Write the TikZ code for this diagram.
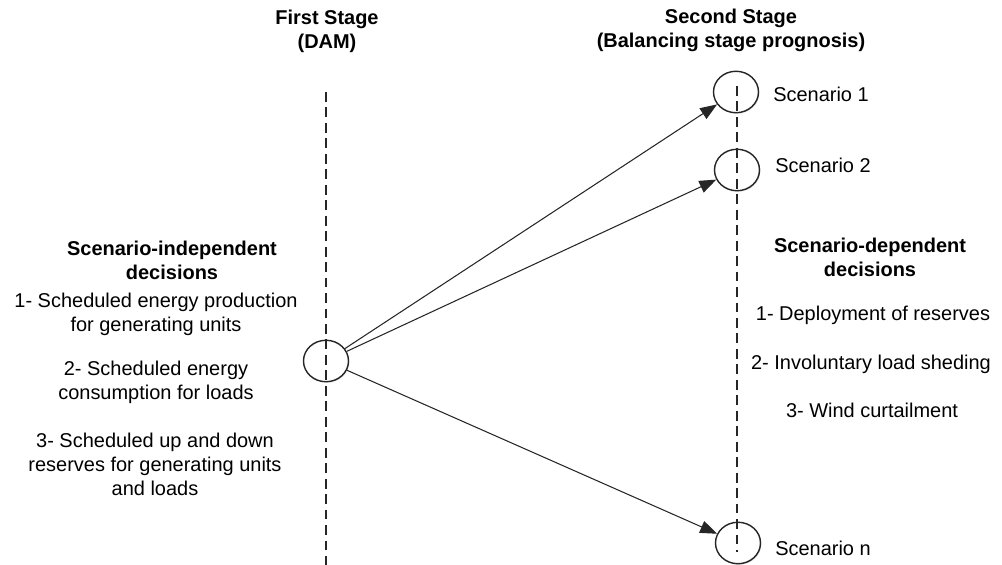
\documentclass[tikz,border=0pt]{standalone}
\usepackage{fontspec}
\setmainfont{Liberation Sans}
\usetikzlibrary{arrows.meta,shadows,shapes.geometric}
\begin{document}
\begin{tikzpicture}[x=0.025cm,y=-0.025cm,
  txt/.style={font=\fontsize{14.2}{17}\selectfont, align=center, inner sep=0pt, text=black},
  hdr/.style={txt, font=\fontsize{14.2}{17}\selectfont\bfseries},
  circ/.style={draw=black!85, line width=1pt, fill=white, inner sep=0pt, minimum width=32pt, minimum height=29.5pt, ellipse,
     drop shadow={opacity=0.25, shadow xshift=0.7pt, shadow yshift=-0.7pt}},
  stage/.style={line width=0.9pt, black!85, dash pattern=on 7pt off 4pt},
  arr/.style={line width=0.75pt, black!85, -{Triangle[length=12pt,width=9pt]}}
]
\useasboundingbox (0,0) rectangle (1002,565);
% stage headers
\node[hdr] (h1) at (327,31) {First Stage\\(DAM)};
\node[hdr] (h2) at (731,30) {Second Stage\\(Balancing stage prognosis)};
% circles
\node[circ] (L) at (326,361) {};
\node[circ] (S1) at (736,92) {};
\node[circ] (S2) at (737,170) {};
\node[circ] (Sn) at (738,543) {};
% dashed stage lines
\coordinate (lt) at (326,92);
\coordinate (lb) at (326,565);
\coordinate (rt) at (737,86);
\coordinate (rb) at (737,552);
\draw[stage] (lt) -- (lb);
\draw[stage] (rt) -- (rb);
% arrows
\draw[arr] (L) -- (S1);
\draw[arr] (L) -- (S2);
\draw[arr] (L) -- (Sn);
% scenario labels
\node[txt, anchor=west] (n1) at (773,94) {Scenario 1};
\node[txt, anchor=west] (n2) at (775,165) {Scenario 2};
\node[txt, anchor=west] (nn) at (775,548) {Scenario n};
% left block
\node[hdr] (lh) at (172,260) {Scenario-independent\\decisions};
\node[txt] (l1) at (156,314) {1- Scheduled energy production\\for generating units};
\node[txt] (l2) at (156,382) {2- Scheduled energy\\consumption for loads};
\node[txt] (l3) at (155,464) {3- Scheduled up and down\\reserves for generating units\\and loads};
% right block
\node[hdr] (rh) at (870,257) {Scenario-dependent\\decisions};
\node[txt] (r1) at (873,315) {1- Deployment of reserves};
\node[txt] (r2) at (871,364) {2- Involuntary load sheding};
\node[txt] (r3) at (872,410) {3- Wind curtailment};
\end{tikzpicture}
\end{document}
